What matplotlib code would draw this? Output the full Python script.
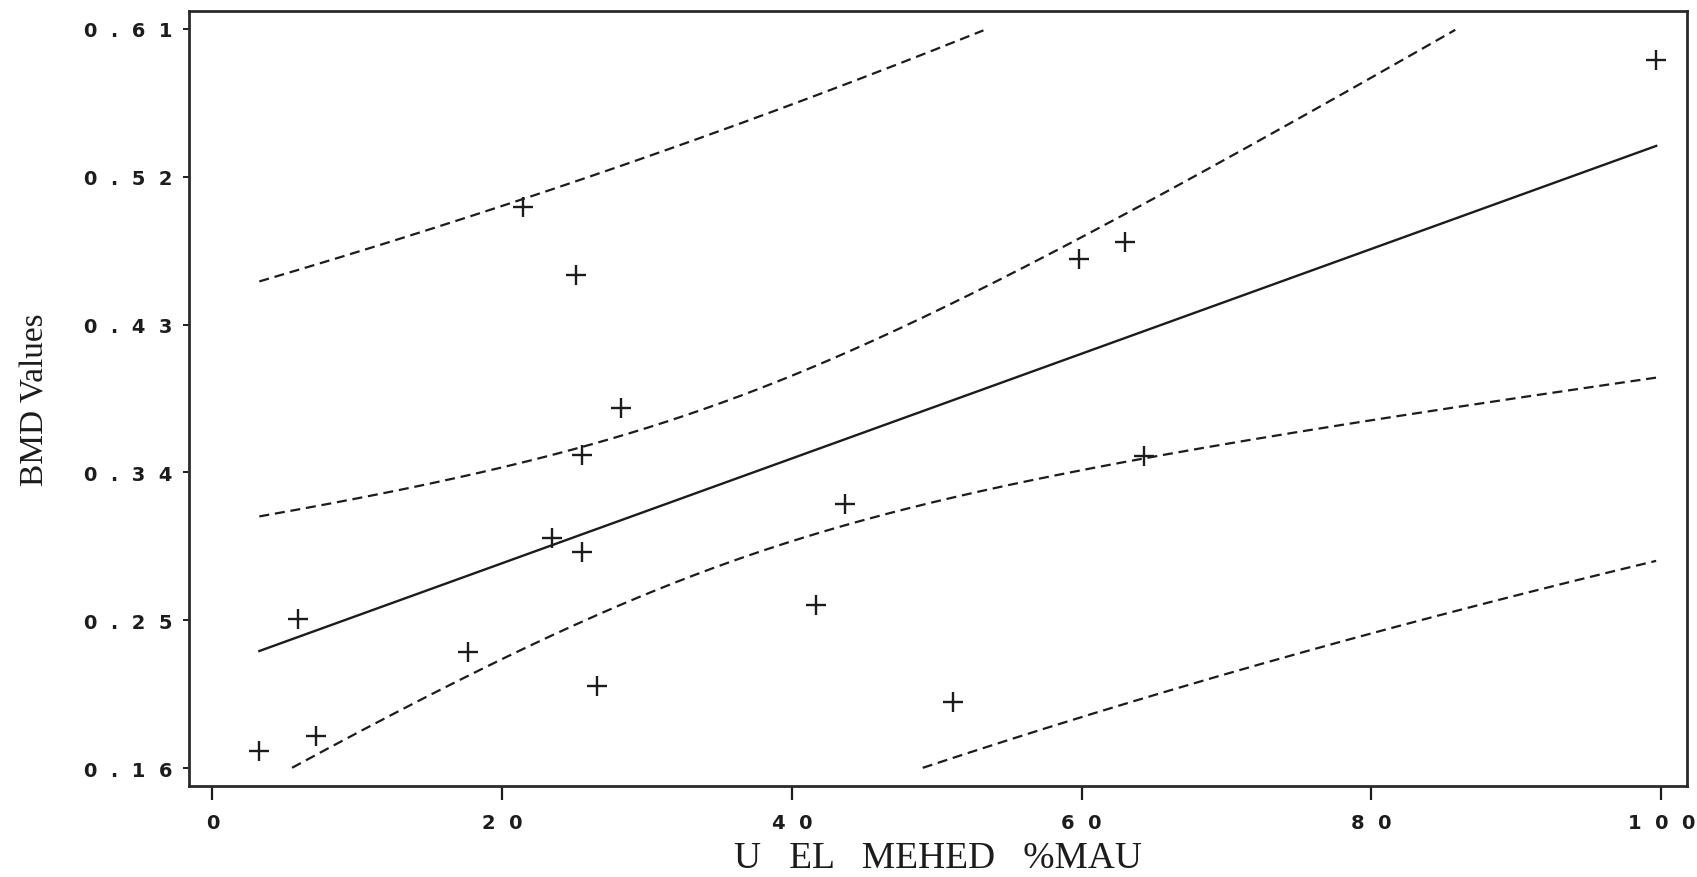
import numpy as np
import matplotlib
matplotlib.use("Agg")
import matplotlib.pyplot as plt

# %MAU against bone mineral density, one cross per element
x_mau = [3.24, 5.89, 7.15, 17.66, 21.46, 23.42, 25.09, 25.49, 25.49,
         26.52, 28.18, 41.65, 43.65, 51.13, 59.82, 62.97, 64.28, 99.65]
y_bmd = [0.1705, 0.2507, 0.1796, 0.2304, 0.5014, 0.2999, 0.4602, 0.3506, 0.2914,
         0.2102, 0.3790, 0.2594, 0.3205, 0.2000, 0.4699, 0.4801, 0.3498, 0.5913]

x_ticks = [0, 20, 40, 60, 80, 100]
y_ticks = [0.16, 0.25, 0.34, 0.43, 0.52, 0.61]

T_975 = 2.120  # student t, 16 dof

x = np.array(x_mau)
y = np.array(y_bmd)
n = len(x)

# least squares fit with 95% mean and prediction bands
slope, icpt = np.polyfit(x, y, 1)
resid = y - (icpt + slope * x)
s = np.sqrt(np.sum(resid**2) / (n - 2))
sxx = np.sum((x - x.mean())**2)

xs = np.linspace(x.min(), x.max(), 300)
yhat = icpt + slope * xs
h_mean = T_975 * s * np.sqrt(1.0 / n + (xs - x.mean())**2 / sxx)
h_pred = T_975 * s * np.sqrt(1.0 + 1.0 / n + (xs - x.mean())**2 / sxx)


def clip(v):
    return np.where((v < y_ticks[0]) | (v > y_ticks[-1]), np.nan, v)


def spaced(txt):
    # wide, typewriter-like tick labels
    return "  ".join(txt)


ink = "#1c1c1c"
fig = plt.figure(figsize=(16.97, 8.78), dpi=100)
ax = fig.add_axes([0.1115, 0.1033, 0.8828, 0.8834])

ax.plot(xs, yhat, color=ink, lw=1.7)
dash = dict(color=ink, lw=1.6, ls=(0, (4.5, 2.6)))
for band in (yhat + h_mean, yhat - h_mean, yhat + h_pred, yhat - h_pred):
    ax.plot(xs, clip(band), **dash)

ax.plot(x, y, ls="none", marker="+", ms=15, mew=1.7, color=ink)

ax.set_xlim(-1.6, 101.8)
ax.set_ylim(0.1489, 0.6211)

ax.set_xticks(x_ticks)
ax.set_xticklabels([spaced(str(v)) for v in x_ticks])
ax.set_yticks(y_ticks)
ax.set_yticklabels([spaced(f"{v:.2f}") for v in y_ticks])

ax.tick_params(axis="x", direction="out", length=10, width=1.6, pad=9,
               labelsize=14, colors=ink)
ax.tick_params(axis="y", direction="out", length=4, width=1.4, pad=8,
               labelsize=14, colors=ink)
for lab in ax.get_xticklabels() + ax.get_yticklabels():
    lab.set_fontweight("bold")
for sp in ax.spines.values():
    sp.set_linewidth(2.0)
    sp.set_color("#2a2a2a")

ax.set_xlabel("U   EL   MEHED   %MAU", family="Liberation Serif", fontsize=27,
              color=ink, labelpad=6)
ax.set_ylabel("BMD Values", family="Liberation Serif", fontsize=24,
              color=ink, labelpad=24)

fig.savefig("out.png", dpi=100)
